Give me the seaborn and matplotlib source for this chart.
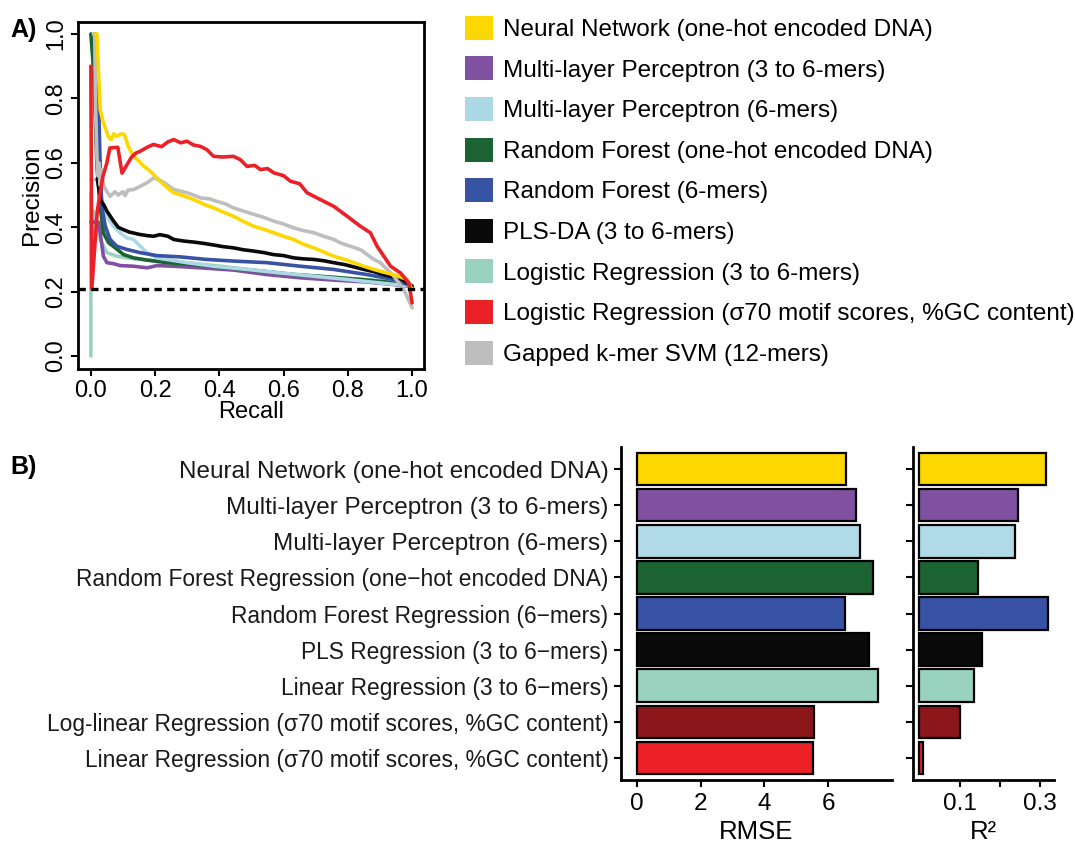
import matplotlib
matplotlib.use("Agg")
import matplotlib.pyplot as plt
import seaborn as sns
import pandas as pd
from matplotlib.patches import Patch

# ---------------- data ----------------
legend_labels = [
    "Neural Network (one-hot encoded DNA)",
    "Multi-layer Perceptron (3 to 6-mers)",
    "Multi-layer Perceptron (6-mers)",
    "Random Forest (one-hot encoded DNA)",
    "Random Forest (6-mers)",
    "PLS-DA (3 to 6-mers)",
    "Logistic Regression (3 to 6-mers)",
    "Logistic Regression (\u03c370 motif scores, %GC content)",
    "Gapped k-mer SVM (12-mers)",
]
legend_colors = ["#FDD700", "#8151A1", "#ADD8E6", "#1B6332", "#3953A4",
                 "#0A0A0A", "#99D3C0", "#EC2027", "#BEBEBE"]

nn_rec = [0.014, 0.019, 0.024, 0.029, 0.039, 0.055, 0.063, 0.071, 0.08, 0.086,
          0.095, 0.104, 0.117, 0.133, 0.15, 0.164, 0.18, 0.195, 0.21, 0.226,
          0.258, 0.29, 0.32, 0.35, 0.382, 0.41, 0.444, 0.475, 0.507, 0.54,
          0.569, 0.60, 0.631, 0.66, 0.694, 0.725, 0.756, 0.79, 0.818, 0.85,
          0.881, 0.91, 0.943, 0.965, 0.984, 1.0]
nn_prec = [1.0, 1.0, 0.88, 0.765, 0.724, 0.68, 0.672, 0.69, 0.682, 0.685,
           0.690, 0.688, 0.65, 0.62, 0.605, 0.59, 0.578, 0.564, 0.548, 0.533,
           0.507, 0.497, 0.486, 0.472, 0.46, 0.448, 0.434, 0.418, 0.403, 0.393,
           0.383, 0.372, 0.362, 0.348, 0.336, 0.323, 0.310, 0.300, 0.29, 0.279,
           0.269, 0.261, 0.253, 0.245, 0.238, 0.207]

mlp36_rec = [0.0, 0.012, 0.024, 0.029, 0.039, 0.05, 0.07, 0.091, 0.133, 0.175,
             0.206, 0.258, 0.341, 0.444, 0.548, 0.652, 0.756, 0.860, 0.943, 1.0]
mlp36_prec = [0.416, 0.416, 0.416, 0.383, 0.31, 0.29, 0.287, 0.281, 0.279, 0.274,
              0.281, 0.279, 0.274, 0.267, 0.253, 0.243, 0.236, 0.230, 0.222, 0.215]

mlp6_rec = [0.0, 0.01, 0.024, 0.034, 0.05, 0.07, 0.091, 0.112, 0.133, 0.154,
            0.175, 0.206, 0.237, 0.299, 0.382, 0.486, 0.590, 0.694, 0.797, 0.901, 1.0]
mlp6_prec = [0.548, 0.548, 0.548, 0.486, 0.434, 0.403, 0.383, 0.367, 0.362, 0.341,
             0.321, 0.305, 0.300, 0.290, 0.279, 0.269, 0.258, 0.248, 0.238, 0.227, 0.217]

rfoh_rec = [0.0, 0.008, 0.019, 0.029, 0.039, 0.055, 0.076, 0.102, 0.133, 0.175,
            0.237, 0.320, 0.424, 0.528, 0.631, 0.735, 0.839, 0.922, 1.0]
rfoh_prec = [1.0, 0.896, 0.589, 0.465, 0.383, 0.352, 0.336, 0.315, 0.305, 0.298,
             0.290, 0.284, 0.274, 0.264, 0.253, 0.246, 0.238, 0.230, 0.217]

rf6_rec = [0.014, 0.02, 0.024, 0.029, 0.034, 0.04, 0.045, 0.06, 0.081, 0.112,
           0.154, 0.205, 0.278, 0.361, 0.444, 0.548, 0.652, 0.756, 0.86, 0.943, 1.0]
rf6_prec = [1.0, 0.90, 0.796, 0.589, 0.465, 0.43, 0.403, 0.362, 0.341, 0.331,
            0.321, 0.312, 0.308, 0.300, 0.295, 0.290, 0.279, 0.269, 0.253, 0.238, 0.217]

pls_rec = [0.02, 0.025, 0.029, 0.04, 0.05, 0.06, 0.07, 0.085, 0.10, 0.12,
           0.133, 0.15, 0.175, 0.195, 0.215, 0.24, 0.258, 0.29, 0.32, 0.35,
           0.382, 0.41, 0.444, 0.475, 0.507, 0.54, 0.569, 0.60, 0.631, 0.66,
           0.694, 0.725, 0.756, 0.79, 0.818, 0.85, 0.881, 0.91, 0.943, 0.97, 1.0]
pls_prec = [0.55, 0.52, 0.485, 0.47, 0.45, 0.435, 0.42, 0.40, 0.393, 0.385,
            0.382, 0.378, 0.374, 0.372, 0.377, 0.372, 0.362, 0.357, 0.354, 0.350,
            0.345, 0.340, 0.336, 0.330, 0.326, 0.321, 0.315, 0.312, 0.305, 0.302,
            0.300, 0.296, 0.290, 0.284, 0.277, 0.269, 0.262, 0.253, 0.245, 0.238, 0.217]

lr36_rec = [0.0, 0.0, 0.004, 0.008, 0.012, 0.019, 0.024, 0.029, 0.05, 0.081,
            0.112, 0.154, 0.216, 0.299, 0.402, 0.507, 0.61, 0.714, 0.818, 0.922, 1.0]
lr36_prec = [0.0, 0.507, 0.38, 0.45, 0.40, 0.42, 0.38, 0.362, 0.321, 0.310,
             0.305, 0.300, 0.295, 0.290, 0.279, 0.267, 0.256, 0.248, 0.240, 0.233, 0.217]

lrs_rec = [0.0, 0.003, 0.02, 0.037, 0.05, 0.059, 0.084, 0.097, 0.11, 0.127,
           0.14, 0.154, 0.175, 0.195, 0.22, 0.24, 0.258, 0.28, 0.299, 0.32,
           0.341, 0.361, 0.382, 0.41, 0.444, 0.465, 0.486, 0.51, 0.528, 0.55,
           0.569, 0.60, 0.621, 0.65, 0.673, 0.714, 0.756, 0.798, 0.839, 0.87,
           0.891, 0.912, 0.933, 0.964, 0.99, 1.0]
lrs_prec = [0.90, 0.21, 0.45, 0.556, 0.60, 0.646, 0.648, 0.568, 0.59, 0.618,
            0.63, 0.636, 0.648, 0.657, 0.650, 0.665, 0.672, 0.662, 0.667, 0.655,
            0.651, 0.641, 0.620, 0.618, 0.620, 0.610, 0.589, 0.592, 0.579, 0.582,
            0.569, 0.560, 0.543, 0.535, 0.507, 0.486, 0.465, 0.434, 0.403, 0.383,
            0.341, 0.310, 0.279, 0.258, 0.227, 0.165]

gkm_rec = [0.008, 0.012, 0.015, 0.019, 0.022, 0.025, 0.029, 0.033, 0.04, 0.05,
           0.06, 0.075, 0.085, 0.10, 0.107, 0.115, 0.133, 0.154, 0.175, 0.195,
           0.21, 0.226, 0.258, 0.28, 0.299, 0.32, 0.341, 0.37, 0.39, 0.42,
           0.444, 0.475, 0.507, 0.54, 0.569, 0.60, 0.631, 0.66, 0.694, 0.725,
           0.756, 0.78, 0.808, 0.84, 0.86, 0.881, 0.901, 0.943, 0.974, 1.0]
gkm_prec = [1.0, 1.0, 0.75, 0.62, 0.56, 0.60, 0.53, 0.58, 0.53, 0.51,
            0.496, 0.51, 0.50, 0.51, 0.498, 0.515, 0.517, 0.527, 0.538, 0.553,
            0.548, 0.540, 0.517, 0.512, 0.507, 0.50, 0.491, 0.488, 0.481, 0.472,
            0.460, 0.45, 0.44, 0.43, 0.419, 0.41, 0.398, 0.39, 0.383, 0.372,
            0.362, 0.35, 0.341, 0.33, 0.315, 0.30, 0.29, 0.248, 0.207, 0.150]

baseline_precision = 0.209

bar_labels = [
    "Neural Network (one-hot encoded DNA)",
    "Multi-layer Perceptron (3 to 6-mers)",
    "Multi-layer Perceptron (6-mers)",
    "Random Forest Regression (one\u2212hot encoded DNA)",
    "Random Forest Regression (6\u2212mers)",
    "PLS Regression (3 to 6\u2212mers)",
    "Linear Regression (3 to 6\u2212mers)",
    "Log-linear Regression (\u03c370 motif scores, %GC content)",
    "Linear Regression (\u03c370 motif scores, %GC content)",
]
bar_colors = ["#FDD700", "#8151A1", "#B0DAE8", "#1B6332", "#3953A4",
              "#0A0A0A", "#99D3C0", "#8B171A", "#EC2027"]
rmse_values = [6.55, 6.88, 7.0, 7.4, 6.52, 7.28, 7.57, 5.56, 5.53]
r2_values = [0.315, 0.246, 0.237, 0.145, 0.319, 0.156, 0.137, 0.102, 0.009]

# ---------------- style ----------------
sns.set_theme(style="white")
plt.rcParams["font.family"] = ["Liberation Sans", "DejaVu Sans"]
plt.rcParams["text.color"] = "black"
plt.rcParams["axes.labelcolor"] = "black"
plt.rcParams["xtick.color"] = "black"
plt.rcParams["ytick.color"] = "black"

W, H = 1075, 848
fig = plt.figure(figsize=(W / 100, H / 100), dpi=100)

def box(l, t, r, b):
    return [l / W, 1 - b / H, (r - l) / W, (b - t) / H]

# ---------------- panel A ----------------
axA = fig.add_axes(box(78, 22, 424, 369))
curves = [
    (lr36_rec, lr36_prec, legend_colors[6]),
    (mlp36_rec, mlp36_prec, legend_colors[1]),
    (rfoh_rec, rfoh_prec, legend_colors[3]),
    (mlp6_rec, mlp6_prec, legend_colors[2]),
    (rf6_rec, rf6_prec, legend_colors[4]),
    (pls_rec, pls_prec, legend_colors[5]),
    (gkm_rec, gkm_prec, legend_colors[8]),
    (nn_rec, nn_prec, legend_colors[0]),
    (lrs_rec, lrs_prec, legend_colors[7]),
]
for rec, prec, col in curves:
    sns.lineplot(x=rec, y=prec, color=col, linewidth=2.6, sort=False,
                 estimator=None, ax=axA)
axA.axhline(baseline_precision, color="black", linewidth=2.4,
            linestyle=(0, (2.2, 1.6)))
axA.set_xlim(-0.04, 1.037)
axA.set_ylim(-0.04, 1.037)
axA.set_xticks([0, 0.2, 0.4, 0.6, 0.8, 1.0])
axA.set_xticklabels(["0.0", "0.2", "0.4", "0.6", "0.8", "1.0"])
axA.set_yticks([0, 0.2, 0.4, 0.6, 0.8, 1.0])
axA.set_yticklabels(["0.0", "0.2", "0.4", "0.6", "0.8", "1.0"],
                    rotation=90, va="center")
axA.tick_params(direction="out", length=5, width=1.5, labelsize=17, pad=3,
                bottom=True, left=True)
for s in axA.spines.values():
    s.set_linewidth(2)
    s.set_color("black")
axA.set_xlabel("Recall", fontsize=17, labelpad=-1)
axA.set_ylabel("Precision", fontsize=17.5, labelpad=1)

# legend
handles = [Patch(facecolor=c, edgecolor="none") for c in legend_colors]
fig.legend(handles, legend_labels, loc="upper left",
           bbox_to_anchor=(455 / W, 1 - 6 / H), frameon=False, fontsize=17.5,
           handlelength=1.15, handleheight=1.15, handletextpad=0.42,
           labelspacing=0.63, borderaxespad=0)

fig.text(10 / W, 1 - 30 / H, "A)", fontsize=18, fontweight="bold", va="center")
fig.text(10 / W, 1 - 467 / H, "B)", fontsize=18, fontweight="bold", va="center")

# ---------------- panel B ----------------
df = pd.DataFrame({"model": bar_labels, "RMSE": rmse_values, "R2": r2_values})
pal = dict(zip(bar_labels, bar_colors))

axR = fig.add_axes(box(621, 447, 892, 780))
sns.barplot(data=df, x="RMSE", y="model", hue="model", palette=pal,
            legend=False, orient="h", width=0.9, edgecolor="black",
            linewidth=1.6, saturation=1, ax=axR)
axR.set_xlim(-0.5, 8.0)
axR.set_ylim(8.61, -0.61)
axR.set_xticks([0, 2, 4, 6])
axR.set_xlabel("RMSE", fontsize=18.5, labelpad=4)
axR.set_ylabel("")

axQ = fig.add_axes(box(913, 447, 1054, 780))
sns.barplot(data=df, x="R2", y="model", hue="model", palette=pal,
            legend=False, orient="h", width=0.9, edgecolor="black",
            linewidth=1.6, saturation=1, ax=axQ)
axQ.set_xlim(-0.016, 0.335)
axQ.set_ylim(8.61, -0.61)
axQ.set_xticks([0.1, 0.2, 0.3])
axQ.set_xticklabels(["0.1", "", "0.3"])
axQ.set_yticks(range(len(bar_labels)))
axQ.set_yticklabels([])
axQ.set_xlabel("R\u00b2", fontsize=18.5, labelpad=4)
axQ.set_ylabel("")

for ax in (axR, axQ):
    for side in ("top", "right"):
        ax.spines[side].set_visible(False)
    for side in ("left", "bottom"):
        ax.spines[side].set_linewidth(2)
        ax.spines[side].set_color("black")
    ax.tick_params(direction="out", length=5, width=1.5, pad=4,
                   bottom=True, left=True)
    ax.tick_params(axis="x", labelsize=17.5)
    ax.tick_params(axis="y", labelsize=17.5, labelcolor="#1a1a1a")

for i, t in enumerate(axR.get_yticklabels()):
    if i >= 3:
        t.set_fontsize(16.4)

fig.savefig("out.png", dpi=100)
